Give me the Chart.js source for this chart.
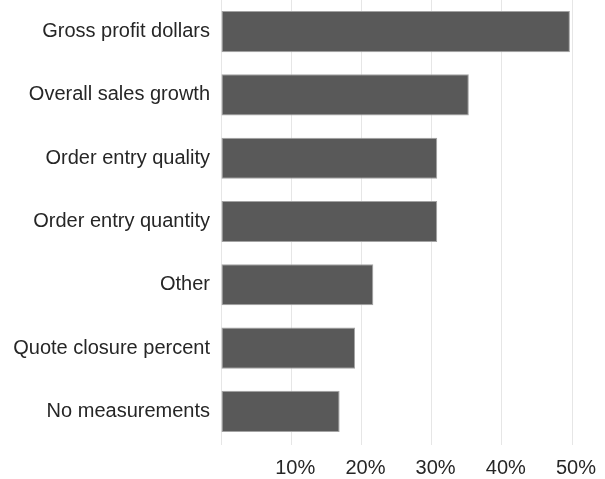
<!DOCTYPE html>
<html>
<head>
<meta charset="utf-8">
<script src="https://cdn.jsdelivr.net/npm/chart.js@4/dist/chart.umd.min.js"></script>
<style>
  html, body { margin: 0; padding: 0; background: #fff; }
  #wrap { width: 605px; height: 479px; position: relative; }
</style>
</head>
<body>
<div id="wrap"><canvas id="measuresChart"></canvas></div>
<script>
const categories = [
  'Gross profit dollars',
  'Overall sales growth',
  'Order entry quality',
  'Order entry quantity',
  'Other',
  'Quote closure percent',
  'No measurements'
];

const shares = [49.7, 35.3, 30.8, 30.8, 21.7, 19.1, 16.9];

const xTicks = [0, 10, 20, 30, 40, 50];

const labelFont = { family: '"Liberation Sans", Arial, sans-serif', size: 20 };

const ctx = document.getElementById('measuresChart').getContext('2d');

new Chart(ctx, {
  type: 'bar',
  data: {
    labels: categories,
    datasets: [
      {
        label: 'Share',
        data: shares,
        backgroundColor: '#595959',
        borderColor: '#a3a3a3',
        borderWidth: 1,
        borderSkipped: false,
        categoryPercentage: 1,
        barPercentage: 0.65
      }
    ]
  },
  options: {
    indexAxis: 'y',
    responsive: true,
    maintainAspectRatio: false,
    animation: false,
    layout: {
      padding: 0
    },
    plugins: {
      legend: { display: false },
      tooltip: { enabled: false }
    },
    scales: {
      x: {
        min: xTicks[0],
        max: xTicks[xTicks.length - 1],
        afterBuildTicks: axis => {
          axis.ticks = xTicks.map(v => ({ value: v }));
        },
        afterFit: axis => {
          // fixed band under the plot for the percent labels
          axis.height = 36;
          axis.paddingLeft = 0;
          axis.paddingRight = 33;
        },
        grid: {
          color: '#e6e6e6',
          lineWidth: 1,
          drawTicks: true,
          tickLength: 2
        },
        border: { display: false },
        ticks: {
          padding: 11,
          labelOffset: 4,
          color: '#262626',
          font: labelFont,
          maxRotation: 0,
          callback: value => value === 0 ? '' : value + '%'
        }
      },
      y: {
        afterFit: axis => {
          axis.width = 221;
          axis.paddingTop = 0;
          axis.paddingBottom = 0;
        },
        grid: { display: false },
        border: { display: false },
        ticks: {
          padding: 3,
          color: '#262626',
          font: labelFont
        }
      }
    }
  }
});
</script>
</body>
</html>
